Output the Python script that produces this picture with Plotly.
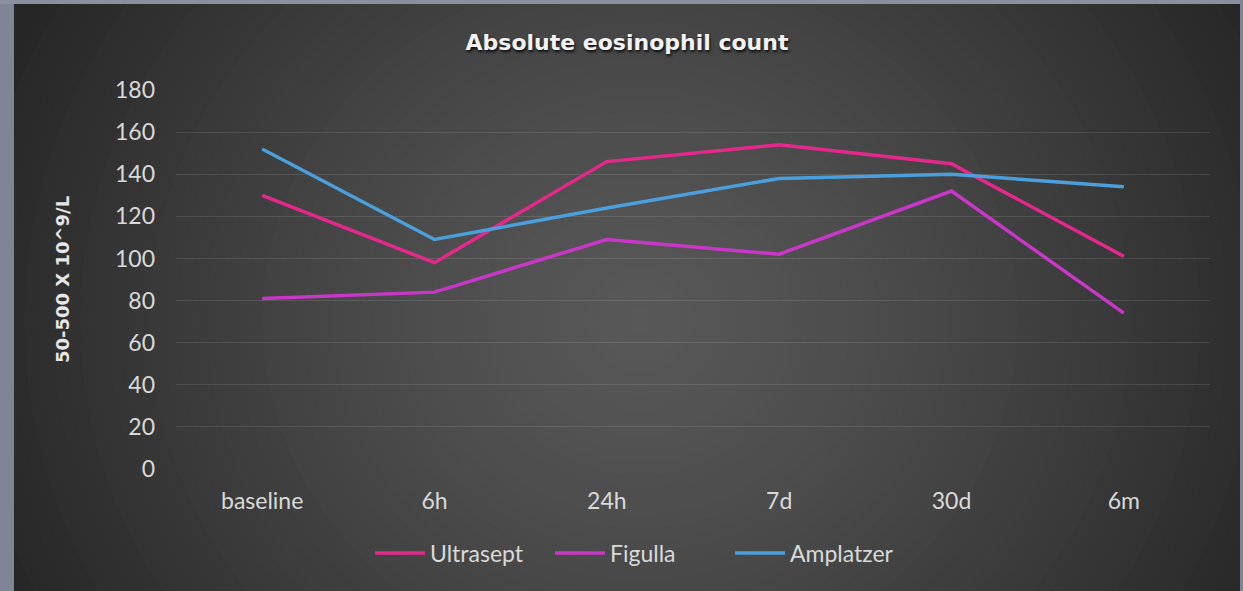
import plotly.graph_objects as go

categories = ["baseline", "6h", "24h", "7d", "30d", "6m"]
ultrasept = [130, 98, 146, 154, 145, 101]
figulla = [81, 84, 109, 102, 132, 74]
amplatzer = [152, 109, 124, 138, 140, 134]
y_ticks = [0, 20, 40, 60, 80, 100, 120, 140, 160, 180]

W, H = 1243, 591
L, R, T, B = 176, 33, 90, 122
PW, PH = W - L - R, H - T - B

def px_x(px):
    return (px - L) / PW

def px_y(py):
    return (H - B - py) / PH

FONT = "Lato, 'Open Sans', sans-serif"
TFONT = "'DejaVu Sans', sans-serif"

fig = go.Figure()
series = [("Ultrasept", ultrasept, "#e5288c"),
          ("Figulla", figulla, "#c837c8"),
          ("Amplatzer", amplatzer, "#4a9fdc")]
for name, vals, col in series:
    fig.add_trace(go.Scatter(x=categories, y=vals, name=name, mode="lines",
                             line=dict(color=col, width=3.5)))

# background: dark panel with radial gradient
shapes = []
x0, x1, y0, y1 = 14, 1240, 4, 591
def rect(ax0, ax1, ay0, ay1, color):
    return dict(type="rect", xref="paper", yref="paper",
                x0=px_x(ax0), x1=px_x(ax1), y0=px_y(ay1), y1=px_y(ay0),
                fillcolor=color, line=dict(width=0), layer="below")

shapes.append(rect(x0, x1, y0, y1, "#262626"))
cx, cy = 640, 320
rx, ry = 700, 650
N = 50
c_out, c_in = 38, 88
for i in range(N):
    f = 1 - i / N
    c = int(round(c_in - (c_in - c_out) * (f ** 1.3)))
    shapes.append(dict(type="circle", xref="paper", yref="paper",
                       x0=px_x(cx - rx * f), x1=px_x(cx + rx * f),
                       y0=px_y(cy + ry * f), y1=px_y(cy - ry * f),
                       fillcolor="rgb(%d,%d,%d)" % (c, c, c), line=dict(width=0),
                       layer="below"))
# outer grey frame on top of the gradient
shapes.append(rect(0, x0, 0, H, "#7f8595"))
shapes.append(rect(0, W, 0, y0, "#8a909e"))
shapes.append(rect(x1, W, 0, H, "#7f8595"))

fig.update_layout(
    width=W, height=H,
    margin=dict(l=L, r=R, t=T, b=B),
    paper_bgcolor="#868c9a",
    plot_bgcolor="rgba(0,0,0,0)",
    shapes=shapes,
    font=dict(family=FONT, color="#d9d9d9"),
    title=dict(text="<b>Absolute eosinophil count</b>", x=627 / W, xanchor="center",
               y=1 - 42 / H, yanchor="middle",
               font=dict(size=22, color="#f2f2f2", family=TFONT,
                         shadow="1px 2px 3px rgba(0,0,0,0.85)")),
    xaxis=dict(type="category", range=[-0.5, 5.5], showgrid=False,
               showline=False, zeroline=False, ticks="",
               tickfont=dict(size=23, color="#d9d9d9"), ticklabelstandoff=16),
    yaxis=dict(range=[0, 180], tickvals=y_ticks, showgrid=True,
               gridcolor="rgba(255,255,255,0.11)", gridwidth=1.3,
               zeroline=False, showline=False,
               ticks="", tickfont=dict(size=23, color="#d9d9d9"),
               ticklabelstandoff=20,
               title=dict(text="<b>50-500 X 10^9/L</b>", standoff=40,
                          font=dict(size=18, color="#e6e6e6", family=TFONT))),
    legend=dict(orientation="h", x=px_x(640), xanchor="center",
                y=px_y(553), yanchor="middle",
                font=dict(size=23, color="#d9d9d9"),
                bgcolor="rgba(0,0,0,0)", itemwidth=50,
                entrywidth=115, entrywidthmode="pixels"),
    showlegend=True,
)

fig.write_html("out.html", config={"displayModeBar": False},
               post_script="document.body.style.margin='0';")
